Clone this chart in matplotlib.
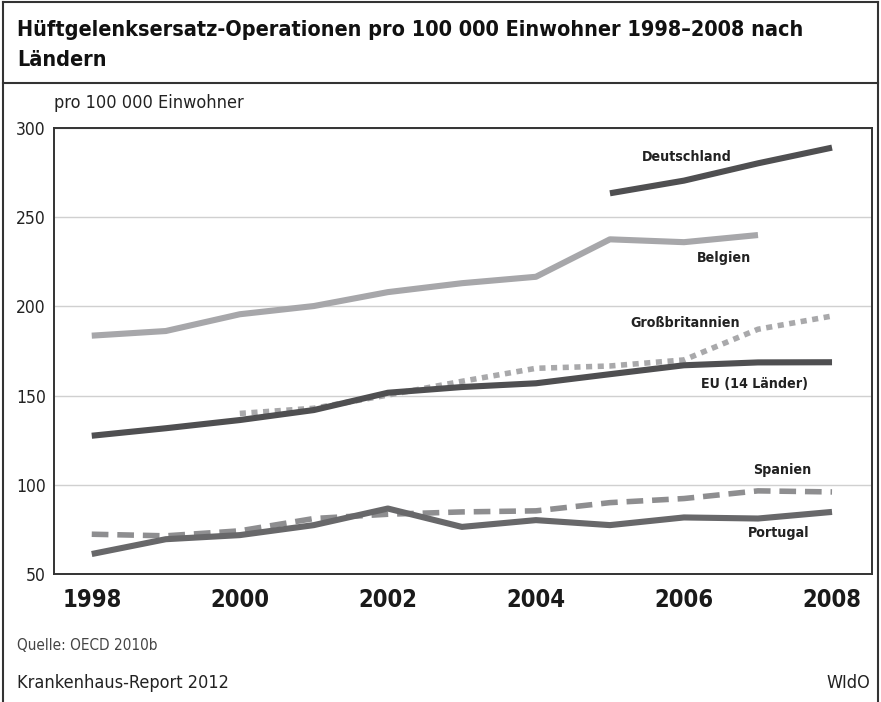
import matplotlib
matplotlib.use("Agg")
import matplotlib.pyplot as plt
from matplotlib.lines import Line2D

plt.rcParams['font.family'] = ['DejaVu Sans']
plt.rcParams['font.stretch'] = 'condensed'

years = list(range(1998, 2009))
belgien = [183.6, 186.2, 195.6, 200.2, 208.0, 213.0, 216.6, 237.6, 236.0, 240.0, None]
deutschland = [None] * 7 + [263.4, 270.5, 280.2, 289.0]
eu14 = [127.5, 131.7, 136.3, 141.9, 151.6, 154.8, 156.9, 162.0, 167.0, 168.6, 168.7]
gb = [None, None, 140.0, 142.9, 150.3, 158.0, 165.3, 166.6, 170.0, 187.2, 194.6]
spanien = [72.3, 71.4, 74.2, 81.1, 83.5, 84.8, 85.4, 90.0, 92.3, 96.6, 96.0]
portugal = [61.2, 69.5, 71.8, 77.4, 86.7, 76.4, 80.2, 77.4, 81.7, 81.1, 84.8]

labels = ["Deutschland", "Belgien", "Großbritannien", "EU (14 Länder)", "Spanien", "Portugal"]
label_x = [2006.04, 2006.54, 2006.02, 2006.95, 2007.33, 2007.28]
label_y = [284.0, 227.0, 190.8, 156.7, 108.1, 72.9]

yticks = [50, 100, 150, 200, 250, 300]
xticks = [1998, 2000, 2002, 2004, 2006, 2008]

W, H = 881, 702
fig = plt.figure(figsize=(W / 100, H / 100), dpi=100)
ax = fig.add_axes([54 / W, 1 - 574 / H, (872 - 54) / W, (574 - 128) / H])


def clean(xs, ys):
    pts = [(x, y) for x, y in zip(xs, ys) if y is not None]
    return [p[0] for p in pts], [p[1] for p in pts]


dark = '#4f4f51'
ax.plot(*clean(years, belgien), color='#a7a7aa', lw=4.4, solid_capstyle='butt', zorder=3)
ax.plot(*clean(years, deutschland), color=dark, lw=4.4, solid_capstyle='butt', zorder=3)
ax.plot(*clean(years, gb), color='#a9a9ab', lw=4.0, linestyle=(0, (1.1, 1.0)),
        dash_capstyle='butt', zorder=3)
ax.plot(*clean(years, eu14), color=dark, lw=4.4, solid_capstyle='butt', zorder=4)
ax.plot(*clean(years, spanien), color='#8e8e90', lw=4.0, linestyle=(0, (3.0, 1.6)),
        dash_capstyle='butt', zorder=3)
ax.plot(*clean(years, portugal), color='#68686a', lw=4.4, solid_capstyle='butt', zorder=4)

for t, x, y in zip(labels, label_x, label_y):
    ax.text(x, y, t, ha='center', va='center', fontsize=10.2, fontweight='bold',
            color='#222222', zorder=5)

ax.set_xlim(1997.49, 2008.54)
ax.set_ylim(50, 300)
ax.set_yticks(yticks)
ax.set_xticks(xticks)
ax.set_yticklabels([str(v) for v in yticks], fontsize=12.5, color='#222222')
ax.set_xticklabels([str(v) for v in xticks], fontsize=17, fontweight='bold', color='#1a1a1a')
ax.tick_params(axis='both', length=0)
ax.tick_params(axis='y', pad=6)
ax.tick_params(axis='x', pad=10)
ax.grid(axis='y', color='#d0d0d0', lw=1.0, zorder=1)
ax.set_axisbelow(True)
for s in ax.spines.values():
    s.set_color('#333333')
    s.set_linewidth(1.4)

ax.text(0.0, 1.035, "pro 100 000 Einwohner", transform=ax.transAxes, ha='left',
        va='bottom', fontsize=13, color='#222222')

fig.text(17 / W, 1 - 30 / H, "Hüftgelenksersatz-Operationen pro 100 000 Einwohner 1998–2008 nach",
         ha='left', va='center', fontsize=15.5, fontweight='bold', color='#111111')
fig.text(17 / W, 1 - 60 / H, "Ländern", ha='left', va='center', fontsize=15.5,
         fontweight='bold', color='#111111')
fig.text(17 / W, 1 - 645 / H, "Quelle: OECD 2010b", ha='left', va='center', fontsize=11,
         color='#444444')
fig.text(17 / W, 1 - 683 / H, "Krankenhaus-Report 2012", ha='left', va='center', fontsize=13,
         color='#222222')
fig.text(870 / W, 1 - 683 / H, "WIdO", ha='right', va='center', fontsize=13, color='#222222')

# frame
fc = '#333333'
fig.add_artist(Line2D([3 / W, 3 / W], [0, 1 - 2 / H], transform=fig.transFigure, color=fc, lw=1.5))
fig.add_artist(Line2D([878 / W, 878 / W], [0, 1 - 2 / H], transform=fig.transFigure, color=fc, lw=1.5))
fig.add_artist(Line2D([3 / W, 878 / W], [1 - 2 / H, 1 - 2 / H], transform=fig.transFigure, color=fc, lw=1.5))
fig.add_artist(Line2D([3 / W, 878 / W], [1 - 83 / H, 1 - 83 / H], transform=fig.transFigure, color=fc, lw=1.5))

fig.savefig("out.png", dpi=100)
